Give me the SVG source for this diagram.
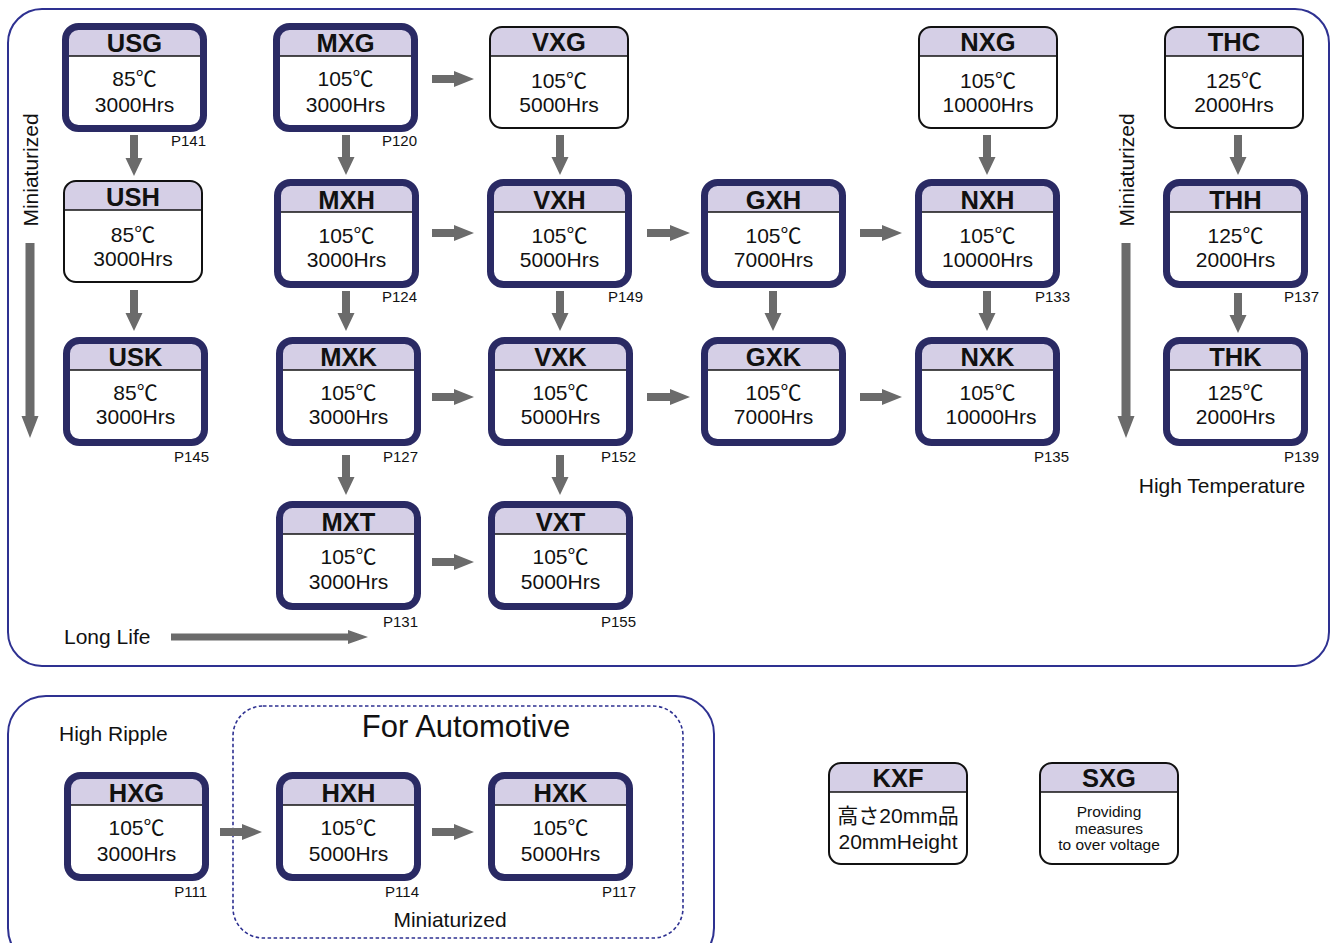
<svg xmlns="http://www.w3.org/2000/svg" xmlns:xlink="http://www.w3.org/1999/xlink" width="1330" height="943" viewBox="0 0 1330 943">
<style>
text{font-family:"Liberation Sans","Noto Sans CJK JP",Arial,sans-serif;fill:#111;}
.hd{font-size:25.5px;font-weight:bold;text-anchor:middle;}
.bd{font-size:21px;text-anchor:middle;}
.pg{font-size:15px;text-anchor:end;}
.lb{font-size:21px;}
.arr{fill:#6b6b6b;}
.panel{fill:none;stroke:#2e3191;stroke-width:2;}
</style>
<defs>
<g id="bold">
<rect x="3.5" y="3.5" width="138" height="102" rx="13" fill="#d5cfe6"/>
<rect x="3.5" y="33" width="138" height="72.5" rx="13" fill="#fff"/>
<rect x="3.5" y="33" width="138" height="20" fill="#fff"/>
<line x1="6" y1="33" x2="139" y2="33" stroke="#111" stroke-width="1.6"/>
<rect x="3.5" y="3.5" width="138" height="102" rx="13" fill="none" stroke="#2a2a64" stroke-width="7"/>
</g>
<g id="thin">
<rect x="1" y="1" width="138" height="101" rx="12" fill="#d5cfe6"/>
<rect x="1" y="30" width="138" height="72" rx="12" fill="#fff"/>
<rect x="1" y="30" width="138" height="20" fill="#fff"/>
<line x1="1" y1="30" x2="139" y2="30" stroke="#111" stroke-width="1.6"/>
<rect x="1" y="1" width="138" height="101" rx="12" fill="none" stroke="#111" stroke-width="2"/>
</g>
</defs>

<g id="panels">
<rect class="panel" x="8" y="9" width="1321" height="657" rx="34"/>
<rect class="panel" x="8" y="696" width="706" height="270" rx="38"/>
<rect x="233" y="706" width="450" height="232" rx="30" fill="none" stroke="#2e3191" stroke-width="1.6" stroke-dasharray="3.5,2.5"/>
</g>

<g id="labels">
<text class="lb" transform="translate(38,170) rotate(-90)" text-anchor="middle">Miniaturized</text>
<text class="lb" transform="translate(1134,170) rotate(-90)" text-anchor="middle">Miniaturized</text>
<text class="lb" x="1222" y="493" text-anchor="middle">High Temperature</text>
<text class="lb" x="64" y="644">Long Life</text>
<text class="lb" x="59" y="741">High Ripple</text>
<text x="466" y="737" font-size="31" text-anchor="middle">For Automotive</text>
<text class="lb" x="450" y="927" text-anchor="middle">Miniaturized</text>
</g>

<g id="connectors">
<path class="arr" d="M432,75 H454 V71 L474,79 L454,87 V83 H432 Z"/>
<path class="arr" d="M432,229 H454 V225 L474,233 L454,241 V237 H432 Z"/>
<path class="arr" d="M647,229 H670 V225 L690,233 L670,241 V237 H647 Z"/>
<path class="arr" d="M860,229 H882 V225 L902,233 L882,241 V237 H860 Z"/>
<path class="arr" d="M432,393 H454 V389 L474,397 L454,405 V401 H432 Z"/>
<path class="arr" d="M647,393 H670 V389 L690,397 L670,405 V401 H647 Z"/>
<path class="arr" d="M860,393 H882 V389 L902,397 L882,405 V401 H860 Z"/>
<path class="arr" d="M432,558 H454 V554 L474,562 L454,570 V566 H432 Z"/>
<path class="arr" d="M220,828 H242 V824 L262,832 L242,840 V836 H220 Z"/>
<path class="arr" d="M432,828 H454 V824 L474,832 L454,840 V836 H432 Z"/>
<path class="arr" d="M171,633.5 H348 V630 L368,637 L348,644 V640.5 H171 Z"/>
<path class="arr" d="M130,135 V158 H125.5 L134,176 L142.5,158 H138 V135 Z"/>
<path class="arr" d="M130,290 V313 H125.5 L134,331 L142.5,313 H138 V290 Z"/>
<path class="arr" d="M342,135 V157 H337.5 L346,175 L354.5,157 H350 V135 Z"/>
<path class="arr" d="M556,135 V157 H551.5 L560,175 L568.5,157 H564 V135 Z"/>
<path class="arr" d="M983,135 V157 H978.5 L987,175 L995.5,157 H991 V135 Z"/>
<path class="arr" d="M1234,135 V157 H1229.5 L1238,175 L1246.5,157 H1242 V135 Z"/>
<path class="arr" d="M342,291 V313 H337.5 L346,331 L354.5,313 H350 V291 Z"/>
<path class="arr" d="M556,291 V313 H551.5 L560,331 L568.5,313 H564 V291 Z"/>
<path class="arr" d="M769,291 V313 H764.5 L773,331 L781.5,313 H777 V291 Z"/>
<path class="arr" d="M983,291 V313 H978.5 L987,331 L995.5,313 H991 V291 Z"/>
<path class="arr" d="M1234,293 V315 H1229.5 L1238,333 L1246.5,315 H1242 V293 Z"/>
<path class="arr" d="M342,455 V477 H337.5 L346,495 L354.5,477 H350 V455 Z"/>
<path class="arr" d="M556,455 V477 H551.5 L560,495 L568.5,477 H564 V455 Z"/>
<path class="arr" d="M25.5,243 V416 H21.5 L30,438 L38.5,416 H34.5 V243 Z"/>
<path class="arr" d="M1121.5,243 V416 H1117.5 L1126,438 L1134.5,416 H1130.5 V243 Z"/>
</g>

<g id="USG" transform="translate(62,23)"><use xlink:href="#bold"/><text class="hd" x="72.5" y="29">USG</text><text class="bd" x="72.5" y="63">85℃</text><text class="bd" x="72.5" y="89">3000Hrs</text><text class="pg" x="144" y="123">P141</text></g>
<g id="MXG" transform="translate(273,23)"><use xlink:href="#bold"/><text class="hd" x="72.5" y="29">MXG</text><text class="bd" x="72.5" y="63">105℃</text><text class="bd" x="72.5" y="89">3000Hrs</text><text class="pg" x="144" y="123">P120</text></g>
<g id="VXG" transform="translate(489,26)"><use xlink:href="#thin"/><text class="hd" x="70" y="25">VXG</text><text class="bd" x="70" y="62">105℃</text><text class="bd" x="70" y="86">5000Hrs</text></g>
<g id="NXG" transform="translate(918,26)"><use xlink:href="#thin"/><text class="hd" x="70" y="25">NXG</text><text class="bd" x="70" y="62">105℃</text><text class="bd" x="70" y="86">10000Hrs</text></g>
<g id="THC" transform="translate(1164,26)"><use xlink:href="#thin"/><text class="hd" x="70" y="25">THC</text><text class="bd" x="70" y="62">125℃</text><text class="bd" x="70" y="86">2000Hrs</text></g>

<g id="USH" transform="translate(63,180)"><use xlink:href="#thin"/><text class="hd" x="70" y="26">USH</text><text class="bd" x="70" y="62">85℃</text><text class="bd" x="70" y="86">3000Hrs</text></g>
<g id="MXH" transform="translate(274,179)"><use xlink:href="#bold"/><text class="hd" x="72.5" y="29.5">MXH</text><text class="bd" x="72.5" y="64">105℃</text><text class="bd" x="72.5" y="88">3000Hrs</text><text class="pg" x="143" y="123">P124</text></g>
<g id="VXH" transform="translate(487,179)"><use xlink:href="#bold"/><text class="hd" x="72.5" y="29.5">VXH</text><text class="bd" x="72.5" y="64">105℃</text><text class="bd" x="72.5" y="88">5000Hrs</text><text class="pg" x="156" y="123">P149</text></g>
<g id="GXH" transform="translate(701,179)"><use xlink:href="#bold"/><text class="hd" x="72.5" y="29.5">GXH</text><text class="bd" x="72.5" y="64">105℃</text><text class="bd" x="72.5" y="88">7000Hrs</text></g>
<g id="NXH" transform="translate(915,179)"><use xlink:href="#bold"/><text class="hd" x="72.5" y="29.5">NXH</text><text class="bd" x="72.5" y="64">105℃</text><text class="bd" x="72.5" y="88">10000Hrs</text><text class="pg" x="155" y="123">P133</text></g>
<g id="THH" transform="translate(1163,179)"><use xlink:href="#bold"/><text class="hd" x="72.5" y="29.5">THH</text><text class="bd" x="72.5" y="64">125℃</text><text class="bd" x="72.5" y="88">2000Hrs</text><text class="pg" x="156" y="123">P137</text></g>

<g id="USK" transform="translate(63,337)"><use xlink:href="#bold"/><text class="hd" x="72.5" y="29">USK</text><text class="bd" x="72.5" y="63">85℃</text><text class="bd" x="72.5" y="87">3000Hrs</text><text class="pg" x="146" y="125">P145</text></g>
<g id="MXK" transform="translate(276,337)"><use xlink:href="#bold"/><text class="hd" x="72.5" y="29">MXK</text><text class="bd" x="72.5" y="63">105℃</text><text class="bd" x="72.5" y="87">3000Hrs</text><text class="pg" x="142" y="125">P127</text></g>
<g id="VXK" transform="translate(488,337)"><use xlink:href="#bold"/><text class="hd" x="72.5" y="29">VXK</text><text class="bd" x="72.5" y="63">105℃</text><text class="bd" x="72.5" y="87">5000Hrs</text><text class="pg" x="148" y="125">P152</text></g>
<g id="GXK" transform="translate(701,337)"><use xlink:href="#bold"/><text class="hd" x="72.5" y="29">GXK</text><text class="bd" x="72.5" y="63">105℃</text><text class="bd" x="72.5" y="87">7000Hrs</text></g>
<g id="NXK" transform="translate(915,337)"><use xlink:href="#bold"/><text class="hd" x="72.5" y="29">NXK</text><text class="bd" x="72.5" y="63">105℃</text><text class="bd" x="76" y="87">10000Hrs</text><text class="pg" x="154" y="125">P135</text></g>
<g id="THK" transform="translate(1163,337)"><use xlink:href="#bold"/><text class="hd" x="72.5" y="29">THK</text><text class="bd" x="72.5" y="63">125℃</text><text class="bd" x="72.5" y="87">2000Hrs</text><text class="pg" x="156" y="125">P139</text></g>

<g id="MXT" transform="translate(276,501)"><use xlink:href="#bold"/><text class="hd" x="72.5" y="29.5">MXT</text><text class="bd" x="72.5" y="63">105℃</text><text class="bd" x="72.5" y="88">3000Hrs</text><text class="pg" x="142" y="126">P131</text></g>
<g id="VXT" transform="translate(488,501)"><use xlink:href="#bold"/><text class="hd" x="72.5" y="29.5">VXT</text><text class="bd" x="72.5" y="63">105℃</text><text class="bd" x="72.5" y="88">5000Hrs</text><text class="pg" x="148" y="126">P155</text></g>

<g id="HXG" transform="translate(64,772)"><use xlink:href="#bold"/><text class="hd" x="72.5" y="29.5">HXG</text><text class="bd" x="72.5" y="63">105℃</text><text class="bd" x="72.5" y="89">3000Hrs</text><text class="pg" x="143" y="125">P111</text></g>
<g id="HXH" transform="translate(276,772)"><use xlink:href="#bold"/><text class="hd" x="72.5" y="29.5">HXH</text><text class="bd" x="72.5" y="63">105℃</text><text class="bd" x="72.5" y="89">5000Hrs</text><text class="pg" x="143" y="125">P114</text></g>
<g id="HXK" transform="translate(488,772)"><use xlink:href="#bold"/><text class="hd" x="72.5" y="29.5">HXK</text><text class="bd" x="72.5" y="63">105℃</text><text class="bd" x="72.5" y="89">5000Hrs</text><text class="pg" x="148" y="125">P117</text></g>

<g id="KXF" transform="translate(828,762)"><use xlink:href="#thin"/><text class="hd" x="70" y="25">KXF</text><text class="bd" x="70" y="61">高さ20mm品</text><text class="bd" x="70" y="87">20mmHeight</text></g>
<g id="SXG" transform="translate(1039,762)"><use xlink:href="#thin"/><text class="hd" x="70" y="25">SXG</text><text x="70" y="55" font-size="15.5" text-anchor="middle">Providing</text><text x="70" y="72" font-size="15.5" text-anchor="middle">measures</text><text x="70" y="88" font-size="15.5" text-anchor="middle">to over voltage</text></g>
</svg>
